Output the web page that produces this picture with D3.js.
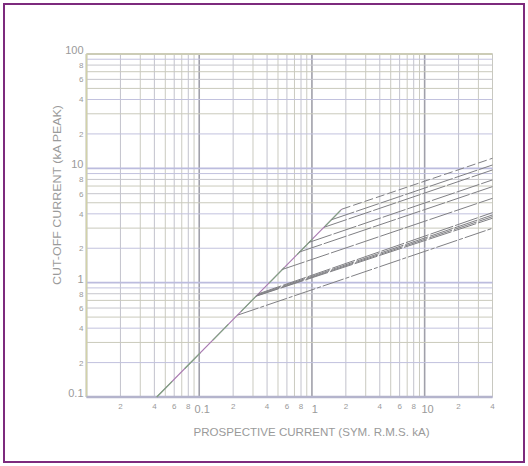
<!DOCTYPE html>
<html>
<head>
<meta charset="utf-8">
<script src="https://cdn.jsdelivr.net/npm/d3@7"></script>
<style>
body { margin:0; background:#fff; }
svg text { font-family: "Liberation Sans", Arial, sans-serif; fill:#9a9a9a; }
</style>
</head>
<body>
<div id="chart"></div>
<script>

// values (kA)
var xDomain = [0.01, 40];
var yDomain = [0.1, 100];

var xTickValues = [0.02, 0.04, 0.06, 0.08, 0.1, 0.2, 0.4, 0.6, 0.8, 1, 2, 4, 6, 8, 10, 20, 40];
var xTickLabels = ["2", "4", "6", "8", "0.1", "2", "4", "6", "8", "1", "2", "4", "6", "8", "10", "2", "4"];
var yTickValues = [0.2, 0.4, 0.6, 0.8, 1, 2, 4, 6, 8, 10, 20, 40, 60, 80, 100];
var yTickLabels = ["2", "4", "6", "8", "1", "2", "4", "6", "8", "10", "2", "4", "6", "8", "100"];
var yBottomLabel = "0.1";

// unlimited peak line
var diagonalX = [0.042, 1.84];
var diagonalY = [0.1, 4.39];

// limited cut-off lines: start on the diagonal, end at 40 kA
var startX = [0.219, 0.318, 0.324, 0.33, 0.336, 0.54, 0.77, 0.94, 1.28, 1.49, 1.84];
var startY = [0.52, 0.76, 0.77, 0.785, 0.80, 1.30, 1.85, 2.25, 3.05, 3.55, 4.39];
var endX   = [40, 40, 40, 40, 40, 40, 40, 40, 40, 40, 40];
var endY   = [2.99, 3.66, 3.78, 3.91, 4.10, 5.47, 6.92, 7.92, 9.68, 10.7, 12.25];


function CutOffChart(divId)
{
	this.m_divId = divId;
	this.width  = 528;
	this.height = 466;
	this.margin = {left:86.5, right:35.5, top:54, bottom:69};

	this.svg = d3.select(this.m_divId)
		.append("svg")
		.attr("width", this.width)
		.attr("height", this.height);

	// purple frame
	this.svg.append("rect")
		.attr("x", 4).attr("y", 4)
		.attr("width", 520).attr("height", 458)
		.attr("fill", "none")
		.attr("stroke", "#7d2a7d")
		.attr("stroke-width", 2);

	this.x = d3.scaleLog().domain(xDomain)
		.range([this.margin.left, this.width - this.margin.right]);
	this.y = d3.scaleLog().domain(yDomain)
		.range([this.height - this.margin.bottom, this.margin.top]);
};


CutOffChart.prototype.drawGrid = function()
{
	var x = this.x, y = this.y;
	var g = this.svg.append("g");
	var y0 = y.range()[0], y1 = y.range()[1];
	var x0 = x.range()[0], x1 = x.range()[1];

	function isDecade(v) {
		var l = Math.log10(v);
		return Math.abs(l - Math.round(l)) < 1e-6;
	}
	function lead(v) {
		return Math.round(v / Math.pow(10, Math.floor(Math.log10(v) + 1e-9)));
	}

	// vertical lines
	x.ticks().forEach(function(v) {
		var dec = isDecade(v);
		var c = dec ? "#a0a0aa" : (lead(v) % 2 == 0 ? "#c2c2cc" : "#cacac0");
		g.append("line")
			.attr("x1", x(v)).attr("x2", x(v))
			.attr("y1", y0).attr("y2", y1)
			.attr("stroke", c)
			.attr("stroke-width", dec ? 1.6 : 1);
	});
	g.append("line")
		.attr("x1", x(40)).attr("x2", x(40))
		.attr("y1", y0).attr("y2", y1)
		.attr("stroke", "#c8c8c0").attr("stroke-width", 1);

	// horizontal lines
	y.ticks().forEach(function(v) {
		var dec = isDecade(v);
		var m = lead(v);
		var c = dec ? "#bcbcde" : (m == 2 || m == 4 || m == 9 ? "#c2c2de" : (m % 2 == 0 ? "#c6c6cc" : "#cacabc"));
		g.append("line")
			.attr("x1", x0).attr("x2", x1)
			.attr("y1", y(v)).attr("y2", y(v))
			.attr("stroke", c)
			.attr("stroke-width", dec ? 1.8 : 1);
	});

	// frame of the grid
	g.append("line").attr("x1", x0).attr("x2", x0).attr("y1", y0).attr("y2", y1)
		.attr("stroke", "#d2d2a8").attr("stroke-width", 1.5);
	g.append("line").attr("x1", x0).attr("x2", x1).attr("y1", y1).attr("y2", y1)
		.attr("stroke", "#d2d2a8").attr("stroke-width", 1.5);
	g.append("line").attr("x1", x0).attr("x2", x1).attr("y1", y0).attr("y2", y0)
		.attr("stroke", "#b4b4cc").attr("stroke-width", 2.5);
};


CutOffChart.prototype.drawLabels = function()
{
	var x = this.x, y = this.y;
	var g = this.svg.append("g");
	var yb = y.range()[0];

	xTickValues.forEach(function(v, i) {
		var big = xTickLabels[i].length > 1 || xTickLabels[i] == "1";
		g.append("text")
			.attr("x", x(v) + (big ? 3 : 0))
			.attr("y", yb + (big ? 16 : 12))
			.attr("text-anchor", "middle")
			.attr("font-size", big ? 11 : 8)
			.text(xTickLabels[i]);
	});

	yTickValues.forEach(function(v, i) {
		var big = yTickLabels[i].length > 1 || yTickLabels[i] == "1";
		g.append("text")
			.attr("x", x.range()[0] - 3)
			.attr("y", y(v) + (big ? 0 : 3))
			.attr("text-anchor", "end")
			.attr("font-size", big ? 11 : 8)
			.text(yTickLabels[i]);
	});
	g.append("text")
		.attr("x", x.range()[0] - 3)
		.attr("y", yb)
		.attr("text-anchor", "end")
		.attr("font-size", 11)
		.text(yBottomLabel);

	g.append("text")
		.attr("x", 311.5).attr("y", 436)
		.attr("text-anchor", "middle")
		.attr("font-size", 10.5)
		.attr("textLength", 236)
		.attr("lengthAdjust", "spacingAndGlyphs")
		.text("PROSPECTIVE CURRENT (SYM. R.M.S. kA)");

	g.append("text")
		.attr("transform", "translate(61,195) rotate(-90)")
		.attr("text-anchor", "middle")
		.attr("font-size", 10.5)
		.attr("textLength", 180)
		.attr("lengthAdjust", "spacingAndGlyphs")
		.text("CUT-OFF CURRENT (kA PEAK)");
};


CutOffChart.prototype.drawCurves = function()
{
	var x = this.x, y = this.y;
	var g = this.svg.append("g").attr("fill", "none");
	var line = d3.line().x(function(d) { return x(d[0]); }).y(function(d) { return y(d[1]); });

	var diag = diagonalX.map(function(v, i) { return [v, diagonalY[i]]; });
	g.append("path").attr("d", line(diag))
		.attr("stroke", "#a878b0").attr("stroke-width", 1.1);
	g.append("path").attr("d", line(diag))
		.attr("stroke", "#7fa87f").attr("stroke-width", 1.1)
		.attr("stroke-dasharray", "22,18");

	for (i = 0; i < startX.length; i++) {
		var pts = [[startX[i], startY[i]], [endX[i], endY[i]]];
		var dash = (i == startX.length - 1) ? "9,3" : (i == 0 ? "22,2,4,2" : "24,2");
		g.append("path").attr("d", line(pts))
			.attr("stroke", "#808084")
			.attr("stroke-width", 1)
			.attr("stroke-dasharray", dash);
	}
};


var _chart = new CutOffChart("#chart");
_chart.drawGrid();
_chart.drawCurves();
_chart.drawLabels();

</script>
</body>
</html>
